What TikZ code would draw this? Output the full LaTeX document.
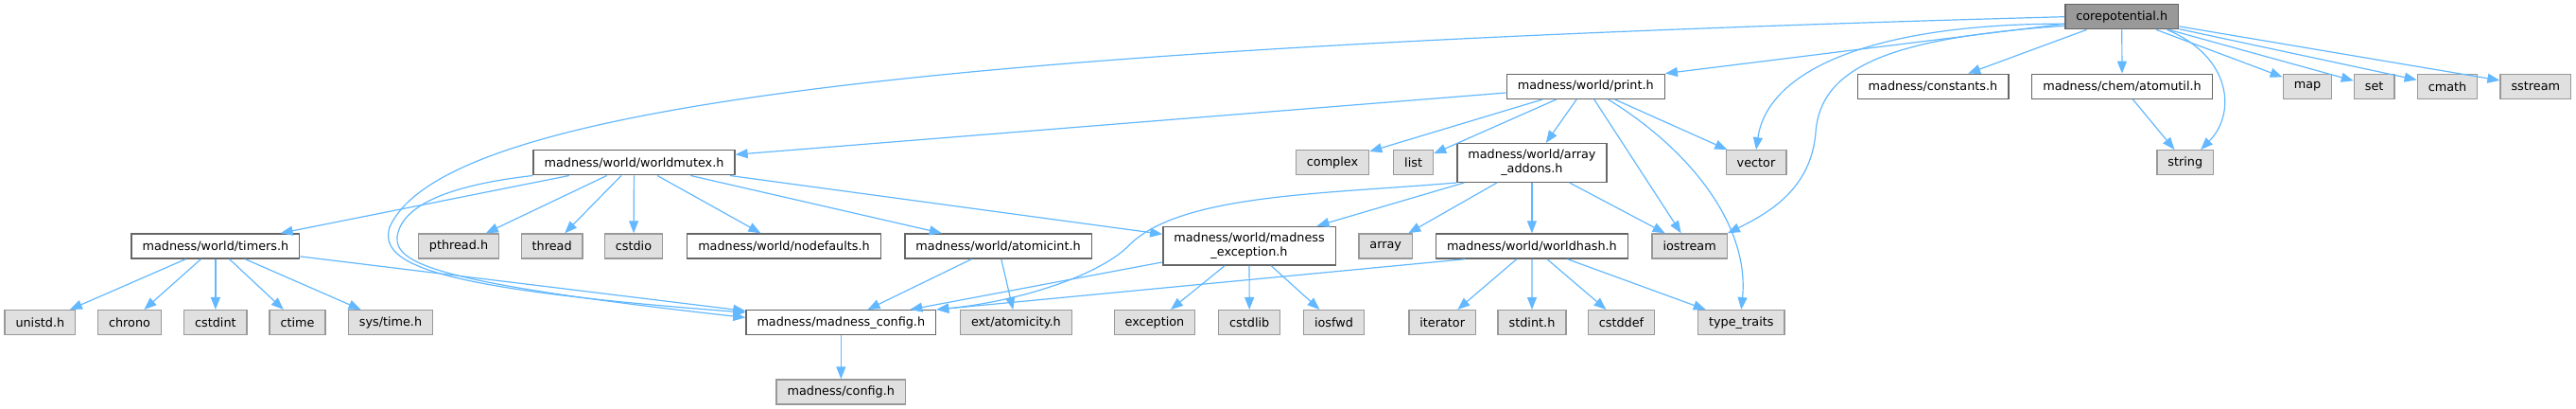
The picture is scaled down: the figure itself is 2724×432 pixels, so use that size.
\documentclass[tikz,border=0pt]{standalone}
\usepackage{fontspec}
\setmainfont{DejaVu Sans}
\usepackage{xcolor}
\usepackage{tikz}
\usetikzlibrary{arrows.meta}
\definecolor{edgeblue}{HTML}{63B8FF}

\begin{document}
\begin{tikzpicture}[x=0.5pt,y=-0.5pt,font=\fontsize{6.4}{7.5}\selectfont,
  box/.style={draw=black!60,fill=white,line width=0.7pt,minimum height=13pt,inner xsep=5.75pt,inner ysep=1.5pt},
  sysbox/.style={box,draw=black!40,fill=black!12},
  rootbox/.style={box,fill=black!40},
  twoline/.style={align=center,minimum height=20.3pt},
  dep/.style={draw=edgeblue,line width=0.6pt,-{Triangle[length=6.5pt,width=5pt]}}]
\useasboundingbox (0,0) rectangle (2724,432);
% top
\node[rootbox] (core) at (2243.7,17.7) {corepotential.h};
% row 2
\node[box] (pr) at (1676.8,91.3) {madness/world/print.h};
\node[box] (cst) at (2044,91.3) {madness/constants.h};
\node[box] (au) at (2244,91.3) {madness/chem/atomutil.h};
\node[sysbox] (map) at (2440,91.3) {map};
\node[sysbox] (set) at (2510.7,91.3) {set};
\node[sysbox] (cmath) at (2588,91.3) {cmath};
\node[sysbox] (sstr) at (2681.3,91.3) {sstream};
% row 3
\node[box] (wm) at (670.5,171.8) {madness/world/worldmutex.h};
\node[sysbox] (cplx) at (1409,171.8) {complex};
\node[sysbox] (list) at (1494.6,171.8) {list};
\node[box,twoline] (aa) at (1619.9,172) {madness/world/array\\\_addons.h};
\node[sysbox] (vec) at (1857,171.8) {vector};
\node[sysbox] (str) at (2310.8,171.8) {string};
% row 4
\node[box] (tm) at (227.9,260) {madness/world/timers.h};
\node[sysbox] (pth) at (485,260) {pthread.h};
\node[sysbox] (thr) at (583.7,260) {thread};
\node[sysbox] (cstdio) at (670,260) {cstdio};
\node[box] (nd) at (829,260) {madness/world/nodefaults.h};
\node[box] (ai) at (1055.6,260) {madness/world/atomicint.h};
\node[box,twoline] (mex) at (1321,259.7) {madness/world/madness\\\_exception.h};
\node[sysbox] (arr) at (1465.2,260) {array};
\node[box] (wh) at (1619.9,260) {madness/world/worldhash.h};
\node[sysbox] (ios) at (1786.6,260) {iostream};
% row 5
\node[sysbox] (unistd) at (42.4,340.7) {unistd.h};
\node[sysbox] (chrono) at (137,340.7) {chrono};
\node[sysbox] (cstdint) at (227.9,340.7) {cstdint};
\node[sysbox] (ctime) at (314.5,340.7) {ctime};
\node[sysbox] (systime) at (413,340.7) {sys/time.h};
\node[box] (cfg) at (889.3,340.7) {madness/madness\_config.h};
\node[sysbox] (atom) at (1074.4,340.7) {ext/atomicity.h};
\node[sysbox] (exc) at (1221,340.7) {exception};
\node[sysbox] (cstdlib) at (1321.2,340.7) {cstdlib};
\node[sysbox] (iosfwd) at (1410.5,340.7) {iosfwd};
\node[sysbox] (iter) at (1525.2,340.7) {iterator};
\node[sysbox] (stdint) at (1620,340.7) {stdint.h};
\node[sysbox] (cstddef) at (1714.5,340.7) {cstddef};
\node[sysbox] (tt) at (1841.3,340.7) {type\_traits};
% bottom
\node[sysbox] (conf) at (889.3,414) {madness/config.h};
% corepotential.h
\draw[dep] (core.west) .. controls (1000,50) and (470,110) .. (412,240) .. controls (400,280) and (460,305) .. (cfg.174);
\draw[dep] (core) -- (pr.north east);
\draw[dep] (core.187) .. controls (1990,25) and (1870,70) .. (vec.north);
\draw[dep] (core.189) .. controls (2000,40) and (1925,70) .. (1920,140) .. controls (1915,200) and (1870,225) .. (ios.north east);
\draw[dep] (core) -- (cst); \draw[dep] (core) -- (au);
\draw[dep] (core.-16) .. controls (2360,60) and (2365,120) .. (str.40);
\draw[dep] (core) -- (map); \draw[dep] (core) -- (set);
\draw[dep] (core) -- (cmath); \draw[dep] (core) -- (sstr);
% print.h
\draw[dep] (pr) -- (wm);
\draw[dep] (pr) -- (cplx); \draw[dep] (pr) -- (list);
\draw[dep] (pr) -- (aa); \draw[dep] (pr) -- (ios); \draw[dep] (pr) -- (vec);
\draw[dep] (pr.-30) .. controls (1790,160) and (1850,240) .. (tt.north);
% array_addons.h
\draw[dep] (aa.south west) .. controls (1400,205) and (1250,205) .. (1195,258) .. controls (1165,290) and (1080,318) .. (cfg.north east);
\draw[dep] (aa) -- (mex); \draw[dep] (aa) -- (arr);
\draw[dep] (aa) -- (wh); \draw[dep] (aa) -- (ios);
% worldhash.h
\draw[dep] (wh.191) -- (cfg.north east);
\draw[dep] (wh) -- (iter); \draw[dep] (wh) -- (stdint);
\draw[dep] (wh) -- (cstddef); \draw[dep] (wh) -- (tt);
% madness_exception.h
\draw[dep] (mex) -- (cfg); \draw[dep] (mex) -- (exc);
\draw[dep] (mex) -- (cstdlib); \draw[dep] (mex) -- (iosfwd);
% atomicint.h
\draw[dep] (ai) -- (cfg); \draw[dep] (ai) -- (atom);
% worldmutex.h
\draw[dep] (wm.south west) .. controls (480,195) and (425,215) .. (420,250) .. controls (417,280) and (470,300) .. (cfg.177);
\draw[dep] (wm) -- (tm); \draw[dep] (wm) -- (pth);
\draw[dep] (wm) -- (thr); \draw[dep] (wm) -- (cstdio);
\draw[dep] (wm) -- (nd); \draw[dep] (wm) -- (ai); \draw[dep] (wm) -- (mex);
% timers.h
\draw[dep] (tm) -- (unistd); \draw[dep] (tm) -- (chrono);
\draw[dep] (tm) -- (cstdint); \draw[dep] (tm) -- (ctime);
\draw[dep] (tm) -- (systime); \draw[dep] (tm) -- (cfg);
% rest
\draw[dep] (cfg) -- (conf);
\draw[dep] (au) -- (str);
\end{tikzpicture}
\end{document}
